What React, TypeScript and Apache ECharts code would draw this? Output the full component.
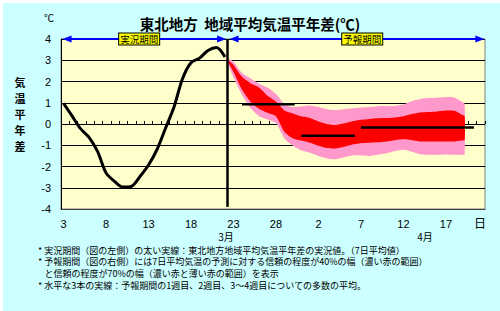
import React, { useEffect, useRef } from 'react';
import * as echarts from 'echarts';

// ---- text ----
const titleText = '東北地方  地域平均気温平年差(℃)';
const yUnit = '℃';
const yName = '気温平年差';
const dayUnit = '日';
const monthLabels = ['3月', '4月'];
const periodLabels = ['実況期間', '予報期間'];
const notes = [
  '* 実況期間（図の左側）の太い実線：東北地方地域平均気温平年差の実況値。（7日平均値）',
  '* 予報期間（図の右側）には7日平均気温の予測に対する信頼の程度が40%の幅（濃い赤の範囲）',
  '\u2002 と信頼の程度が70%の幅（濃い赤と薄い赤の範囲）を表示',
  '* 水平な3本の実線：予報期間の1週目、2週目、3～4週目についての多数の平均。',
];

// ---- axes (x = days after 3 March) ----
const xMin = -0.3;
const xMax = 49.6;
const xLabelDays = [0, 5, 10, 15, 20, 25, 30, 35, 40, 45];
const xLabelText = ['3', '8', '13', '18', '23', '28', '2', '7', '12', '17'];
const tickSlotCount = 51;

// ---- observed 7-day mean anomaly ----
const obsDays = [0, 1, 2, 3, 4, 5, 6, 7, 8, 9, 10, 11, 12, 13, 14, 15, 16, 17, 18, 19];
const obsValues = [0.97, 0.38, -0.22, -0.63, -1.29, -2.3, -2.7, -2.97, -2.93, -2.47, -1.93, -1.2, -0.2, 0.8, 2.13, 2.88, 3.1, 3.46, 3.6, 3.15];

// ---- forecast bands ----
const bandDays = [19.3, 20, 21, 22, 23, 24, 25, 26, 27, 28, 29, 30, 31, 32, 33, 34, 35, 36, 37, 38, 39, 40, 41, 42, 43, 44, 45, 46, 46.8, 47.2];
const pinkUpper = [3.08, 2.93, 2.4, 2.15, 1.9, 1.72, 1.42, 0.92, 0.8, 0.83, 0.87, 0.8, 0.7, 0.66, 0.7, 0.74, 0.78, 0.8, 0.84, 0.84, 0.86, 0.92, 1.08, 1.18, 1.22, 1.24, 1.27, 1.25, 1.07, 0.95];
const redUpper = [3.02, 2.78, 2.22, 1.92, 1.72, 1.33, 1.06, 0.64, 0.5, 0.36, 0.28, 0.12, 0.0, -0.05, 0.03, 0.13, 0.2, 0.24, 0.27, 0.28, 0.31, 0.37, 0.47, 0.54, 0.56, 0.59, 0.63, 0.62, 0.45, 0.36];
const redLower = [2.98, 2.45, 1.62, 1.05, 0.72, 0.53, 0.36, -0.38, -0.68, -0.78, -0.88, -1.02, -1.13, -1.15, -1.07, -0.96, -0.9, -0.88, -0.86, -0.82, -0.76, -0.72, -0.76, -0.82, -0.82, -0.82, -0.82, -0.82, -0.78, -0.75];
const pinkLower = [2.9, 2.2, 1.38, 0.75, 0.37, 0.21, 0.05, -0.68, -1.02, -1.25, -1.35, -1.5, -1.62, -1.66, -1.56, -1.48, -1.48, -1.5, -1.45, -1.38, -1.27, -1.21, -1.3, -1.42, -1.45, -1.45, -1.43, -1.45, -1.45, -1.45];

// ---- weekly ensemble means ----
const weekStart = [21.0, 28.0, 35.0];
const weekEnd = [27.2, 34.3, 48.3];
const weekMean = [0.93, -0.55, -0.17];

// ---- period markers ----
const separatorDay = 19.25;
const observedArrow = [0.41, 18.6];
const forecastArrow = [20.07, 49.0];
const periodLabelDays = [8.9, 35.15];

const latin = '"Liberation Sans", "Noto Sans CJK JP", sans-serif';
const cjk = '"Noto Sans CJK JP", sans-serif';

function buildOption(): any {
  const bandSeries = {
    type: 'custom',
    silent: true,
    z: 2,
    data: bandDays.map((d, i) => [d, pinkUpper[i], redUpper[i], redLower[i], pinkLower[i]]),
    encode: { x: 0, y: [1, 4] },
    renderItem: (params: any, api: any) => {
      if (params.dataIndex !== 0) return null;
      const poly = (upper: number[], lower: number[]) => {
        const pts: number[][] = [];
        bandDays.forEach((d, i) => pts.push(api.coord([d, upper[i]])));
        for (let i = bandDays.length - 1; i >= 0; i--) pts.push(api.coord([bandDays[i], lower[i]]));
        return pts;
      };
      return {
        type: 'group',
        children: [
          { type: 'polygon', shape: { points: poly(pinkUpper, pinkLower), smooth: 0.2 }, style: { fill: '#ff99cc' } },
          { type: 'polygon', shape: { points: poly(redUpper, redLower), smooth: 0.2 }, style: { fill: '#ff0000' } },
        ],
      };
    },
  };

  const observed = {
    type: 'line',
    data: obsDays.map((d, i) => [d, obsValues[i]]),
    symbol: 'none',
    smooth: 0.3,
    lineStyle: { color: '#000', width: 3 },
    z: 4,
    markLine: {
      silent: true,
      symbol: ['triangle', 'triangle'],
      symbolSize: [7, 9],
      label: { show: false },
      lineStyle: { color: '#0000ff', width: 2, type: 'solid' },
      data: [
        [{ coord: [observedArrow[0], 4] }, { coord: [observedArrow[1], 4] }],
        [{ coord: [forecastArrow[0], 4] }, { coord: [forecastArrow[1], 4] }],
      ],
    },
    markPoint: {
      silent: true,
      symbol: 'rect',
      symbolSize: 1,
      itemStyle: { color: 'rgba(0,0,0,0)' },
      label: {
        show: true,
        position: 'inside',
        formatter: '{b}',
        fontSize: 9.5,
        lineHeight: 10,
        color: '#000',
        fontFamily: cjk,
        backgroundColor: '#ffff00',
        borderColor: '#000',
        borderWidth: 1,
        padding: [1, 1, 0, 1],
      },
      data: periodLabels.map((t, i) => ({ name: t, coord: [periodLabelDays[i], 4] })),
    },
  };

  const weekSeries = weekMean.map((m, i) => ({
    type: 'line',
    data: [[weekStart[i], m], [weekEnd[i], m]],
    symbol: 'none',
    lineStyle: { color: '#000', width: 2.5 },
    z: 5,
    markLine: i === 0 ? {
      silent: true,
      symbol: ['none', 'none'],
      label: { show: false },
      lineStyle: { color: '#000', width: 2.5, type: 'solid' },
      data: [[{ coord: [separatorDay, 4] }, { coord: [separatorDay, -3.9] }]],
    } : undefined,
  }));

  const graphics: any[] = [
    { type: 'rect', z: -100, silent: true, shape: { x: 3, y: 3, width: 497, height: 308 }, style: { fill: '#ccffff' } },
    { type: 'text', x: 49, y: 17, style: { text: yUnit, fontSize: 10, fontFamily: cjk, fill: '#000', align: 'center', verticalAlign: 'middle' } },
    { type: 'text', x: 480, y: 222, style: { text: dayUnit, fontSize: 12, fontFamily: cjk, fill: '#000', align: 'center', verticalAlign: 'middle' } },
    { type: 'text', x: 226, y: 236, style: { text: monthLabels[0], fontSize: 10, fontFamily: cjk, fill: '#000', align: 'center', verticalAlign: 'middle' } },
    { type: 'text', x: 425, y: 236, style: { text: monthLabels[1], fontSize: 10, fontFamily: cjk, fill: '#000', align: 'center', verticalAlign: 'middle' } },
  ];
  notes.forEach((t, i) => {
    graphics.push({ type: 'text', x: 38, y: 250 + i * 11.8, style: { text: t, fontSize: 9, lineHeight: 10, fontFamily: cjk, fill: '#000', align: 'left', verticalAlign: 'middle' } });
  });
  yName.split('').forEach((ch, i) => {
    graphics.push({ type: 'text', x: 20, y: 82 + i * 16, style: { text: ch, fontSize: 11, lineHeight: 12, fontWeight: 'bold', fontFamily: cjk, fill: '#000', align: 'center', verticalAlign: 'middle' } });
  });

  return {
    animation: false,
    backgroundColor: '#ffffff',
    title: {
      text: titleText,
      left: 'center',
      top: 11,
      textStyle: { fontSize: 14.5, fontWeight: 'bold', color: '#000', fontFamily: cjk },
    },
    grid: {
      left: 61, right: 15, top: 39, bottom: 102,
      show: true, backgroundColor: '#ffffcc', borderColor: '#808080', borderWidth: 1,
    },
    xAxis: [
      {
        type: 'value', min: xMin, max: xMax,
        axisLine: { show: true, onZero: false, lineStyle: { color: '#404040', width: 1 } },
        axisTick: { show: false },
        splitLine: { show: false },
        axisLabel: {
          customValues: xLabelDays,
          formatter: (v: number) => {
            const i = xLabelDays.indexOf(Math.round(v));
            return i >= 0 ? xLabelText[i] : '';
          },
          fontSize: 11, color: '#000', margin: 9, fontFamily: latin,
        },
      },
      {
        type: 'category', position: 'top',
        data: new Array(tickSlotCount).fill(''),
        boundaryGap: true,
        axisLine: { show: false, onZero: true },
        axisTick: { show: true, length: 3, interval: 0, lineStyle: { color: '#000', width: 1 } },
        axisLabel: { show: false },
        splitLine: { show: false },
      },
    ],
    yAxis: {
      type: 'value', min: -4, max: 4, interval: 1,
      axisLine: { show: true, onZero: false, lineStyle: { color: '#000', width: 1 } },
      axisTick: { show: false },
      splitLine: { show: true, lineStyle: { color: '#000', width: 1 } },
      axisLabel: { fontSize: 11, color: '#000', margin: 10, fontFamily: latin },
    },
    graphic: graphics,
    series: [bandSeries, observed, ...weekSeries],
  };
}

export default function App() {
  const ref = useRef<HTMLDivElement>(null);
  useEffect(() => {
    document.body.style.margin = '0';
    const chart = echarts.init(ref.current!, null, { renderer: 'svg' });
    chart.setOption(buildOption());
    return () => chart.dispose();
  }, []);
  return <div ref={ref} style={{ width: 500, height: 311 }} />;
}
